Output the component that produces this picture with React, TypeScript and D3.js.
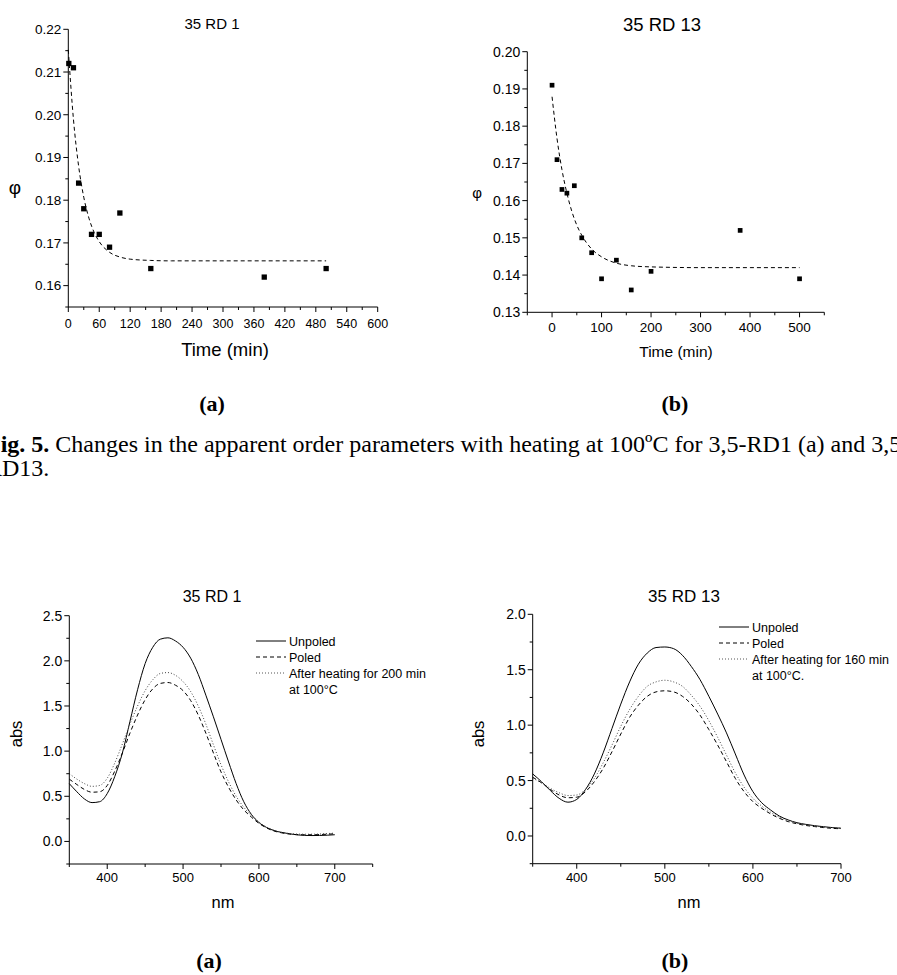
import React from 'react';
import * as d3 from 'd3';

const SANS = 'Liberation Sans, Arial, Helvetica, sans-serif';
const SERIF = 'Liberation Serif, Times New Roman, serif';

// ---------- Top (a): 35 RD 1 order parameter vs time ----------
const timeA = [1, 10, 20, 30, 45, 60, 80, 100, 160, 380, 500];
const phiA = [0.212, 0.211, 0.184, 0.178, 0.172, 0.172, 0.169, 0.177, 0.164, 0.162, 0.164];
const fitTimeA = [0, 10, 20, 30, 40, 50, 60, 80, 100, 120, 160, 200, 300, 400, 500];
const fitPhiA = [0.2152, 0.1989, 0.188, 0.1807, 0.1758, 0.1725, 0.1703, 0.1678, 0.1667, 0.1662, 0.1659, 0.1658, 0.1658, 0.1658, 0.1658];
const ticksXA = [0, 60, 120, 180, 240, 300, 360, 420, 480, 540, 600];
const minorXA = [30, 90, 150, 210, 270, 330, 390, 450, 510, 570];
const ticksYA = [0.16, 0.17, 0.18, 0.19, 0.2, 0.21, 0.22];
const minorYA = [0.155, 0.165, 0.175, 0.185, 0.195, 0.205, 0.215];

// ---------- Top (b): 35 RD 13 order parameter vs time ----------
const timeB = [0, 10, 20, 30, 45, 60, 80, 100, 130, 160, 200, 380, 500];
const phiB = [0.191, 0.171, 0.163, 0.162, 0.164, 0.15, 0.146, 0.139, 0.144, 0.136, 0.141, 0.152, 0.139];
const fitTimeB = [0, 10, 20, 30, 40, 50, 60, 80, 100, 130, 160, 200, 300, 400, 500];
const fitPhiB = [0.1879, 0.1767, 0.1683, 0.162, 0.1571, 0.1534, 0.1507, 0.147, 0.1449, 0.1432, 0.1425, 0.1422, 0.142, 0.142, 0.142];
const ticksXB = [0, 100, 200, 300, 400, 500];
const minorXB = [-50, 50, 150, 250, 350, 450, 550];
const ticksYB = [0.13, 0.14, 0.15, 0.16, 0.17, 0.18, 0.19, 0.2];
const minorYB = [0.135, 0.145, 0.155, 0.165, 0.175, 0.185, 0.195];

// ---------- Bottom spectra ----------
const wavelengths = [350, 360, 370, 380, 390, 400, 410, 420, 430, 440, 450, 460, 470, 480, 490, 500, 510, 520, 530, 540, 550, 560, 570, 580, 590, 600, 610, 620, 630, 640, 650, 660, 670, 680, 690, 700];

const unpoledA = [0.64, 0.55, 0.47, 0.43, 0.44, 0.53, 0.72, 0.98, 1.33, 1.68, 1.97, 2.15, 2.24, 2.255, 2.22, 2.15, 2.03, 1.85, 1.62, 1.38, 1.13, 0.88, 0.64, 0.44, 0.3, 0.21, 0.155, 0.12, 0.1, 0.085, 0.073, 0.067, 0.065, 0.066, 0.069, 0.074];
const poledA = [0.69, 0.63, 0.575, 0.545, 0.55, 0.62, 0.78, 0.98, 1.2, 1.4, 1.57, 1.69, 1.75, 1.76, 1.73, 1.67, 1.56, 1.4, 1.2, 0.98, 0.77, 0.6, 0.46, 0.35, 0.27, 0.2, 0.15, 0.115, 0.095, 0.082, 0.076, 0.074, 0.074, 0.076, 0.08, 0.085];
const heatedA = [0.75, 0.69, 0.64, 0.61, 0.62, 0.7, 0.87, 1.08, 1.3, 1.5, 1.67, 1.79, 1.86, 1.87, 1.84, 1.77, 1.66, 1.5, 1.3, 1.07, 0.85, 0.66, 0.5, 0.38, 0.285, 0.215, 0.16, 0.125, 0.1, 0.088, 0.082, 0.08, 0.08, 0.082, 0.087, 0.092];

const unpoledB = [0.56, 0.49, 0.41, 0.34, 0.305, 0.33, 0.42, 0.56, 0.75, 0.97, 1.19, 1.39, 1.55, 1.65, 1.7, 1.705, 1.69, 1.63, 1.53, 1.41, 1.26, 1.1, 0.93, 0.74, 0.55, 0.4, 0.3, 0.235, 0.18, 0.145, 0.12, 0.105, 0.093, 0.084, 0.076, 0.07];
const poledB = [0.53, 0.48, 0.42, 0.37, 0.345, 0.35, 0.4, 0.49, 0.61, 0.76, 0.92, 1.07, 1.18, 1.26, 1.3, 1.31, 1.3, 1.26, 1.19, 1.09, 0.96, 0.82, 0.67, 0.52, 0.4, 0.31, 0.25, 0.2, 0.16, 0.13, 0.11, 0.095, 0.085, 0.076, 0.069, 0.065];
const heatedB = [0.52, 0.48, 0.43, 0.39, 0.365, 0.37, 0.42, 0.52, 0.66, 0.82, 0.99, 1.14, 1.26, 1.35, 1.39, 1.405, 1.39, 1.35, 1.27, 1.17, 1.04, 0.89, 0.73, 0.57, 0.44, 0.34, 0.27, 0.215, 0.17, 0.14, 0.115, 0.1, 0.09, 0.08, 0.074, 0.07];

const ticksNm = [400, 500, 600, 700];
const minorNmA = [350, 450, 550, 650, 750];
const minorNmB = [350, 450, 550, 650];
const ticksAbsA = [0, 0.5, 1.0, 1.5, 2.0, 2.5];
const minorAbsA = [-0.25, 0.25, 0.75, 1.25, 1.75, 2.25];
const ticksAbsB = [0, 0.5, 1.0, 1.5, 2.0];
const minorAbsB = [-0.25, 0.25, 0.75, 1.25, 1.75];

const legendA = ['Unpoled', 'Poled', 'After heating for 200 min', 'at 100°C'];
const legendB = ['Unpoled', 'Poled', 'After heating for 160 min', 'at 100°C.'];

const DASH = '4,3';
const DOT = '1,2';

type Scale = d3.ScaleLinear<number, number>;

function XAxis({ s, y, major, minor, fmt, fs, labelY }: { s: Scale; y: number; major: number[]; minor: number[]; fmt: (v: number) => string; fs: number; labelY: number }) {
  const [r0, r1] = s.range();
  return (
    <g>
      <line x1={r0} x2={r1} y1={y} y2={y} stroke="#000" strokeWidth={1} />
      {major.map((v) => <line key={'M' + v} x1={s(v)} x2={s(v)} y1={y} y2={y + 5} stroke="#000" strokeWidth={1} />)}
      {minor.map((v) => <line key={'m' + v} x1={s(v)} x2={s(v)} y1={y} y2={y + 3} stroke="#000" strokeWidth={1} />)}
      {major.map((v) => (
        <text key={'t' + v} x={s(v)} y={labelY} textAnchor="middle" fontSize={fs} fontFamily={SANS}>{fmt(v)}</text>
      ))}
    </g>
  );
}

function YAxis({ s, x, major, minor, fmt, fs }: { s: Scale; x: number; major: number[]; minor: number[]; fmt: (v: number) => string; fs: number }) {
  const [r0, r1] = s.range();
  return (
    <g>
      <line x1={x} x2={x} y1={r0} y2={r1} stroke="#000" strokeWidth={1} />
      {major.map((v) => <line key={'M' + v} x1={x - 5} x2={x} y1={s(v)} y2={s(v)} stroke="#000" strokeWidth={1} />)}
      {minor.map((v) => <line key={'m' + v} x1={x - 3} x2={x} y1={s(v)} y2={s(v)} stroke="#000" strokeWidth={1} />)}
      {major.map((v) => (
        <text key={'t' + v} x={x - 7} y={s(v)} dy="0.36em" textAnchor="end" fontSize={fs} fontFamily={SANS}>{fmt(v)}</text>
      ))}
    </g>
  );
}

function Legend({ x, y, labels, fs }: { x: number; y: number; labels: string[]; fs: number }) {
  const styles = [undefined, DASH, DOT];
  return (
    <g>
      {labels.map((t, i) => (
        <g key={i}>
          {i < 3 && (
            <line x1={x} x2={x + 30} y1={y + i * 16} y2={y + i * 16} stroke={i === 2 ? '#555' : '#000'} strokeWidth={1} strokeDasharray={styles[i]} />
          )}
          <text x={x + 33} y={y + i * 16} dy="0.36em" fontSize={fs} fontFamily={SANS}>{t}</text>
        </g>
      ))}
    </g>
  );
}

function TimePanel(props: {
  xs: Scale; ys: Scale; t: number[]; p: number[]; ft: number[]; fp: number[];
  xMajor: number[]; xMinor: number[]; yMajor: number[]; yMinor: number[];
  title: string; titleX: number; titleY: number; titleFs: number;
  xLabelX: number; xLabelY: number; xLabelFs: number;
  phiX: number; phiY: number; phiFs: number; tickFsX: number; tickFsY: number; tickLabelY: number; sq: number;
}) {
  const { xs, ys } = props;
  const line = d3.line<number>().x((_, i) => xs(props.ft[i])).y((d) => ys(d)).curve(d3.curveMonotoneX);
  const axisY = ys.range()[0];
  const axisX = xs.range()[0];
  return (
    <g>
      <text x={props.titleX} y={props.titleY} textAnchor="middle" fontSize={props.titleFs} fontFamily={SANS}>{props.title}</text>
      <path d={line(props.fp) || ''} fill="none" stroke="#000" strokeWidth={1} strokeDasharray={DASH} />
      {props.t.map((v, i) => (
        <rect key={i} x={xs(v) - props.sq / 2} y={ys(props.p[i]) - props.sq / 2} width={props.sq} height={props.sq} fill="#000" />
      ))}
      <XAxis s={xs} y={axisY} major={props.xMajor} minor={props.xMinor} fmt={(v) => String(v)} fs={props.tickFsX} labelY={props.tickLabelY} />
      <YAxis s={ys} x={axisX} major={props.yMajor} minor={props.yMinor} fmt={d3.format('.2f')} fs={props.tickFsY} />
      <text x={props.xLabelX} y={props.xLabelY} textAnchor="middle" fontSize={props.xLabelFs} fontFamily={SANS}>Time (min)</text>
      <text x={props.phiX} y={props.phiY} dy="0.36em" textAnchor="middle" fontSize={props.phiFs} fontFamily={SANS}>φ</text>
    </g>
  );
}

function SpecPanel(props: {
  xs: Scale; ys: Scale; series: number[][]; xMajor: number[]; xMinor: number[]; yMajor: number[]; yMinor: number[];
  title: string; titleX: number; titleFs: number; nmX: number; absX: number; legendX: number; legendY: number; legend: string[];
}) {
  const { xs, ys } = props;
  const line = d3.line<number>().x((_, i) => xs(wavelengths[i])).y((d) => ys(d)).curve(d3.curveMonotoneX);
  const dashes = [undefined, DASH, DOT];
  const colors = ['#000', '#000', '#444'];
  return (
    <g>
      <text x={props.titleX} y={602} textAnchor="middle" fontSize={props.titleFs} fontFamily={SANS}>{props.title}</text>
      {props.series.map((s, i) => (
        <path key={i} d={line(s) || ''} fill="none" stroke={colors[i]} strokeWidth={1} strokeDasharray={dashes[i]} />
      ))}
      <XAxis s={xs} y={ys.range()[0]} major={props.xMajor} minor={props.xMinor} fmt={(v) => String(v)} fs={13} labelY={882} />
      <YAxis s={ys} x={xs.range()[0]} major={props.yMajor} minor={props.yMinor} fmt={d3.format('.1f')} fs={14} />
      <text x={props.nmX} y={908} textAnchor="middle" fontSize={16.5} fontFamily={SANS}>nm</text>
      <text transform={`translate(${props.absX},734) rotate(-90)`} textAnchor="middle" dy="0.36em" fontSize={16.5} fontFamily={SANS}>abs</text>
      <Legend x={props.legendX} y={props.legendY} labels={props.legend} fs={12.5} />
    </g>
  );
}

export default function App() {
  const xsTA = d3.scaleLinear().domain([0, 600]).range([68.3, 377.7]);
  const ysTA = d3.scaleLinear().domain([0.155, 0.22]).range([307, 29.3]);
  const xsTB = d3.scaleLinear().domain([-50, 550]).range([527.3, 824.3]);
  const ysTB = d3.scaleLinear().domain([0.13, 0.2]).range([312.3, 51.7]);
  const xsBA = d3.scaleLinear().domain([350, 750]).range([69.3, 372.7]);
  const ysBA = d3.scaleLinear().domain([-0.25, 2.5]).range([864, 615.7]);
  const xsBB = d3.scaleLinear().domain([350, 700]).range([532.7, 841]);
  const ysBB = d3.scaleLinear().domain([-0.25, 2.0]).range([863.7, 614.3]);

  return (
    <svg width={897} height={975} viewBox="0 0 897 975" style={{ position: 'absolute', left: 0, top: 0, background: '#fff' }}>
      <rect x={0} y={0} width={897} height={975} fill="#fff" />
      <TimePanel xs={xsTA} ys={ysTA} t={timeA} p={phiA} ft={fitTimeA} fp={fitPhiA}
        xMajor={ticksXA} xMinor={minorXA} yMajor={ticksYA} yMinor={minorYA}
        title="35 RD 1" titleX={212} titleY={29} titleFs={15}
        xLabelX={225} xLabelY={356} xLabelFs={18.5} phiX={15} phiY={187} phiFs={19}
        tickFsX={12.5} tickFsY={13.5} tickLabelY={328} sq={5.3} />
      <TimePanel xs={xsTB} ys={ysTB} t={timeB} p={phiB} ft={fitTimeB} fp={fitPhiB}
        xMajor={ticksXB} xMinor={minorXB} yMajor={ticksYB} yMinor={minorYB}
        title="35 RD 13" titleX={662} titleY={31} titleFs={18.5}
        xLabelX={676} xLabelY={357} xLabelFs={15.5} phiX={477} phiY={193} phiFs={15}
        tickFsX={13.5} tickFsY={14} tickLabelY={332} sq={4.7} />
      <text x={212} y={411} textAnchor="middle" fontSize={22} fontWeight="bold" fontFamily={SERIF}>(a)</text>
      <text x={675} y={411} textAnchor="middle" fontSize={22} fontWeight="bold" fontFamily={SERIF}>(b)</text>
      <text x={-14} y={452} fontSize={24} fontFamily={SERIF}>
        <tspan fontWeight="bold">Fig. 5.</tspan> Changes in the apparent order parameters with heating at 100ºC for 3,5-RD1 (a) and 3,5-
      </text>
      <text x={-14} y={476} fontSize={24} fontFamily={SERIF}>RD13.</text>
      <SpecPanel xs={xsBA} ys={ysBA} series={[unpoledA, poledA, heatedA]} xMajor={ticksNm} xMinor={minorNmA}
        yMajor={ticksAbsA} yMinor={minorAbsA} title="35 RD 1" titleX={212} titleFs={16}
        nmX={223} absX={16} legendX={256} legendY={641} legend={legendA} />
      <SpecPanel xs={xsBB} ys={ysBB} series={[unpoledB, poledB, heatedB]} xMajor={ticksNm} xMinor={minorNmB}
        yMajor={ticksAbsB} yMinor={minorAbsB} title="35 RD 13" titleX={684} titleFs={17}
        nmX={689} absX={478} legendX={719} legendY={627} legend={legendB} />
      <text x={209} y={968} textAnchor="middle" fontSize={22} fontWeight="bold" fontFamily={SERIF}>(a)</text>
      <text x={675} y={968} textAnchor="middle" fontSize={22} fontWeight="bold" fontFamily={SERIF}>(b)</text>
    </svg>
  );
}
